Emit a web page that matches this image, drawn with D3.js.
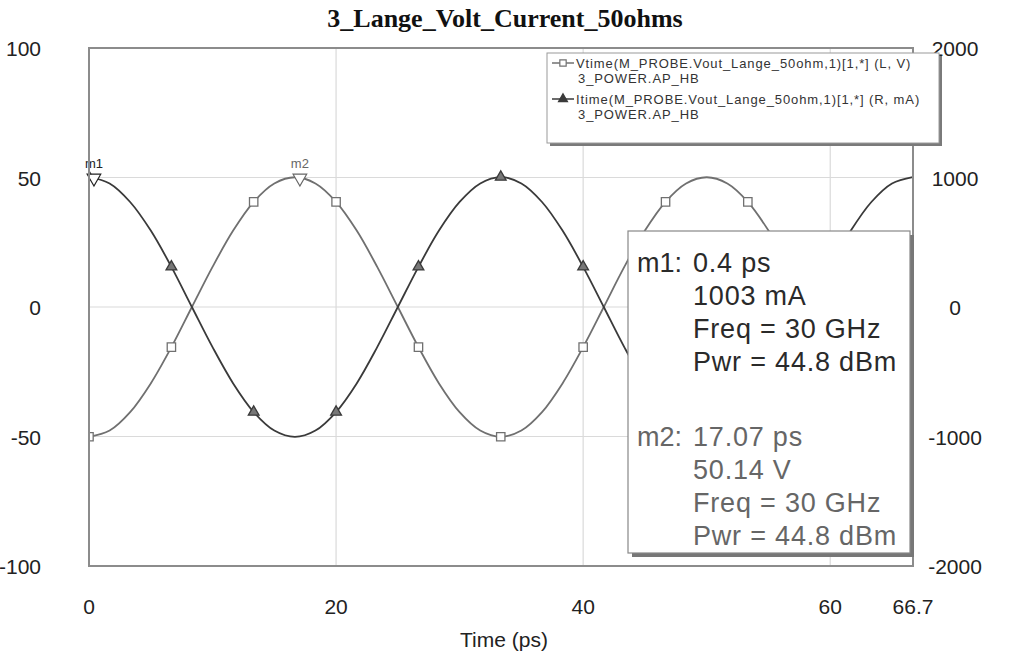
<!DOCTYPE html>
<html>
<head>
<meta charset="utf-8">
<script src="https://cdn.jsdelivr.net/npm/d3@7"></script>
<style>
  html, body { margin: 0; padding: 0; background: #fff; }
  svg { display: block; }
  text { font-family: "Liberation Sans", Arial, sans-serif; }
</style>
</head>
<body>
<div id="chart"></div>
<script>
'use strict';

// ─── Data (harmonic balance probe, one 30 GHz cycle = 33.33 ps) ───

const timePs = [
    0, 1.67, 3.33, 5, 6.67, 8.33, 10, 11.67, 13.33, 15,
    16.67, 18.33, 20, 21.67, 23.33, 25, 26.67, 28.33, 30, 31.67,
    33.33, 35, 36.67, 38.33, 40, 41.67, 43.33, 45, 46.67, 48.33,
    50, 51.67, 53.33, 55, 56.67, 58.33, 60, 61.67, 63.33, 65, 66.67
];

// Vtime, left axis (V)
const voltV = [
    -50.1, -47.7, -40.6, -29.5, -15.5, 0, 15.5, 29.5, 40.6, 47.7,
    50.1, 47.7, 40.6, 29.5, 15.5, 0, -15.5, -29.5, -40.6, -47.7,
    -50.1, -47.7, -40.6, -29.5, -15.5, 0, 15.5, 29.5, 40.6, 47.7,
    50.1, 47.7, 40.6, 29.5, 15.5, 0, -15.5, -29.5, -40.6, -47.7, -50.1
];

// Itime, right axis (mA)
const currentMA = [
    1003, 954, 811, 590, 310, 0, -310, -590, -811, -954,
    -1003, -954, -811, -590, -310, 0, 310, 590, 811, 954,
    1003, 954, 811, 590, 310, 0, -310, -590, -811, -954,
    -1003, -954, -811, -590, -310, 0, 310, 590, 811, 954, 1003
];

const symbolEvery = 4;          // a symbol on every 4th sample

const xTicks = [0, 20, 40, 60, 66.7];
const xGrid = [20, 40, 60];
const yLeftTicks = [-100, -50, 0, 50, 100];
const yRightTicks = [-2000, -1000, 0, 1000, 2000];
const yGrid = [-50, 0, 50];

const legendRows = [
    ['Vtime(M_PROBE.Vout_Lange_50ohm,1)[1,*] (L, V)', '3_POWER.AP_HB'],
    ['Itime(M_PROBE.Vout_Lange_50ohm,1)[1,*] (R, mA)', '3_POWER.AP_HB']
];

const m1 = { name: 'm1', t: 0.4, value: 1003, unit: 'mA' };
const m2 = { name: 'm2', t: 17.07, value: 50.14, unit: 'V' };
const readoutRows = [
    [`${m1.name}:`, `${m1.t} ps`], ['', `${m1.value} ${m1.unit}`], ['', 'Freq = 30 GHz'], ['', 'Pwr = 44.8 dBm'],
    [`${m2.name}:`, `${m2.t} ps`], ['', `${m2.value} ${m2.unit}`], ['', 'Freq = 30 GHz'], ['', 'Pwr = 44.8 dBm']
];

// ─── Layout ────────────────────────────────────────────────────

const W = 1010, H = 653;
const plot = { left: 89, top: 48, right: 913, bottom: 566 };
const vColor = '#707070';
const iColor = '#3a3a3a';

const svg = d3.select('#chart').append('svg')
    .attr('width', W).attr('height', H);

const x = d3.scaleLinear().domain([0, 66.7]).range([plot.left, plot.right]);
const yL = d3.scaleLinear().domain([-100, 100]).range([plot.bottom, plot.top]);
const yR = d3.scaleLinear().domain([-2000, 2000]).range([plot.bottom, plot.top]);

// ─── Title ─────────────────────────────────────────────────────

svg.append('text')
    .attr('x', 505).attr('y', 27)
    .attr('text-anchor', 'middle')
    .style('font-family', '"Liberation Serif", "Times New Roman", serif')
    .style('font-weight', 'bold').style('font-size', '26px')
    .attr('fill', '#111')
    .text('3_Lange_Volt_Current_50ohms');

// ─── Grid ──────────────────────────────────────────────────────

svg.append('clipPath').attr('id', 'plot-clip')
    .append('rect')
    .attr('x', plot.left).attr('y', plot.top)
    .attr('width', plot.right - plot.left).attr('height', plot.bottom - plot.top);

svg.append('g').selectAll('line.hg')
    .data(yGrid).enter().append('line')
    .attr('x1', plot.left).attr('x2', plot.right)
    .attr('y1', d => yL(d)).attr('y2', d => yL(d))
    .attr('stroke', '#dadada').attr('stroke-width', 1.2);

svg.append('g').selectAll('line.vg')
    .data(xGrid).enter().append('line')
    .attr('x1', d => x(d)).attr('x2', d => x(d))
    .attr('y1', plot.top).attr('y2', plot.bottom)
    .attr('stroke', '#dadada').attr('stroke-width', 1.2);

// ─── Traces ────────────────────────────────────────────────────

const traces = svg.append('g').attr('clip-path', 'url(#plot-clip)');

const vLine = d3.line().x((d, i) => x(timePs[i])).y(d => yL(d)).curve(d3.curveCatmullRom);
const iLine = d3.line().x((d, i) => x(timePs[i])).y(d => yR(d)).curve(d3.curveCatmullRom);

traces.append('path').datum(voltV)
    .attr('d', vLine).attr('fill', 'none')
    .attr('stroke', vColor).attr('stroke-width', 1.8);

traces.append('path').datum(currentMA)
    .attr('d', iLine).attr('fill', 'none')
    .attr('stroke', iColor).attr('stroke-width', 1.8);

const symIdx = d3.range(0, timePs.length - 1, symbolEvery);
const squareSym = d3.symbol().type(d3.symbolSquare).size(70);
const triSym = d3.symbol().type(d3.symbolTriangle).size(50);

traces.selectAll('path.vsym')
    .data(symIdx).enter().append('path')
    .attr('class', 'vsym')
    .attr('d', squareSym)
    .attr('transform', i => `translate(${x(timePs[i])},${yL(voltV[i])})`)
    .attr('fill', '#fff').attr('stroke', vColor).attr('stroke-width', 1.3);

traces.selectAll('path.isym')
    .data(symIdx).enter().append('path')
    .attr('class', 'isym')
    .attr('d', triSym)
    .attr('transform', i => `translate(${x(timePs[i])},${yR(currentMA[i])})`)
    .attr('fill', '#777').attr('stroke', iColor).attr('stroke-width', 1.3);

// ─── Markers m1 / m2 ───────────────────────────────────────────

const markerSym = d3.symbol().type(d3.symbolTriangle).size(80);
[[m1, yR, '#222'], [m2, yL, '#666']].forEach(([m, scale, col]) => {
    const mx = x(m.t), my = scale(m.value);
    svg.append('path')
        .attr('d', markerSym)
        .attr('transform', `translate(${mx},${my + 1}) rotate(180)`)
        .attr('fill', '#fff').attr('stroke', col).attr('stroke-width', 1.2);
    svg.append('text')
        .attr('x', mx).attr('y', my - 9)
        .attr('text-anchor', 'middle').style('font-size', '13px')
        .attr('fill', col)
        .text(m.name);
});

// ─── Plot frame and axes ───────────────────────────────────────

svg.append('rect')
    .attr('x', plot.left).attr('y', plot.top)
    .attr('width', plot.right - plot.left).attr('height', plot.bottom - plot.top)
    .attr('fill', 'none').attr('stroke', '#8c8c8c').attr('stroke-width', 2);

const tickFont = '21px';

svg.append('g').selectAll('text')
    .data(yLeftTicks).enter().append('text')
    .attr('x', 41).attr('y', d => yL(d) + 8)
    .attr('text-anchor', 'end').style('font-size', tickFont).attr('fill', '#222')
    .text(d => d);

svg.append('g').selectAll('text')
    .data(yRightTicks).enter().append('text')
    .attr('x', 955).attr('y', d => yR(d) + 8)
    .attr('text-anchor', 'middle').style('font-size', tickFont).attr('fill', '#222')
    .text(d => d);

svg.append('g').selectAll('text')
    .data(xTicks).enter().append('text')
    .attr('x', d => x(d)).attr('y', 614)
    .attr('text-anchor', 'middle').style('font-size', tickFont).attr('fill', '#222')
    .text(d => d);

svg.append('text')
    .attr('x', 504).attr('y', 647)
    .attr('text-anchor', 'middle').style('font-size', '21px').attr('fill', '#222')
    .text('Time (ps)');

// ─── Legend ────────────────────────────────────────────────────

const lg = { x: 547, y: 53, w: 392, h: 90 };
svg.append('rect')
    .attr('x', lg.x + 3).attr('y', lg.y + 3).attr('width', lg.w).attr('height', lg.h)
    .attr('fill', '#7a7a7a');
svg.append('rect')
    .attr('x', lg.x).attr('y', lg.y).attr('width', lg.w).attr('height', lg.h)
    .attr('fill', '#fff').attr('stroke', '#9a9a9a').attr('stroke-width', 1);

legendRows.forEach((rows, k) => {
    const cy = lg.y + 10 + k * 36;
    const col = k === 0 ? vColor : iColor;
    svg.append('line')
        .attr('x1', lg.x + 5).attr('x2', lg.x + 27)
        .attr('y1', cy).attr('y2', cy)
        .attr('stroke', col).attr('stroke-width', 1.5);
    svg.append('path')
        .attr('d', k === 0 ? d3.symbol().type(d3.symbolSquare).size(40)() : d3.symbol().type(d3.symbolTriangle).size(35)())
        .attr('transform', `translate(${lg.x + 16},${cy})`)
        .attr('fill', k === 0 ? '#fff' : col).attr('stroke', col).attr('stroke-width', 1.2);
    rows.forEach((t, j) => {
        svg.append('text')
            .attr('x', lg.x + 29 + (j ? 2 : 0)).attr('y', cy + 5 + j * 15)
            .style('font-size', '13px').style('letter-spacing', '0.9px')
            .attr('fill', '#333')
            .text(t);
    });
});

// ─── Marker readout box ────────────────────────────────────────

const rb = { x: 628, y: 231, w: 282, h: 322 };
svg.append('rect')
    .attr('x', rb.x + 4).attr('y', rb.y + 4).attr('width', rb.w).attr('height', rb.h)
    .attr('fill', '#777');
svg.append('rect')
    .attr('x', rb.x).attr('y', rb.y).attr('width', rb.w).attr('height', rb.h)
    .attr('fill', '#fff').attr('stroke', '#888').attr('stroke-width', 1.2);

readoutRows.forEach(([label, val], k) => {
    const baseY = rb.y + 41 + k * 33 + (k >= 4 ? 42 : 0);
    const col = k < 4 ? '#2a2a2a' : '#666';
    if (label) {
        svg.append('text')
            .attr('x', rb.x + 9).attr('y', baseY)
            .style('font-size', '27px').attr('fill', col)
            .text(label);
    }
    svg.append('text')
        .attr('x', rb.x + 65).attr('y', baseY)
        .style('font-size', '27px').style('letter-spacing', '0.8px')
        .attr('fill', col)
        .text(val);
});
</script>
</body>
</html>
